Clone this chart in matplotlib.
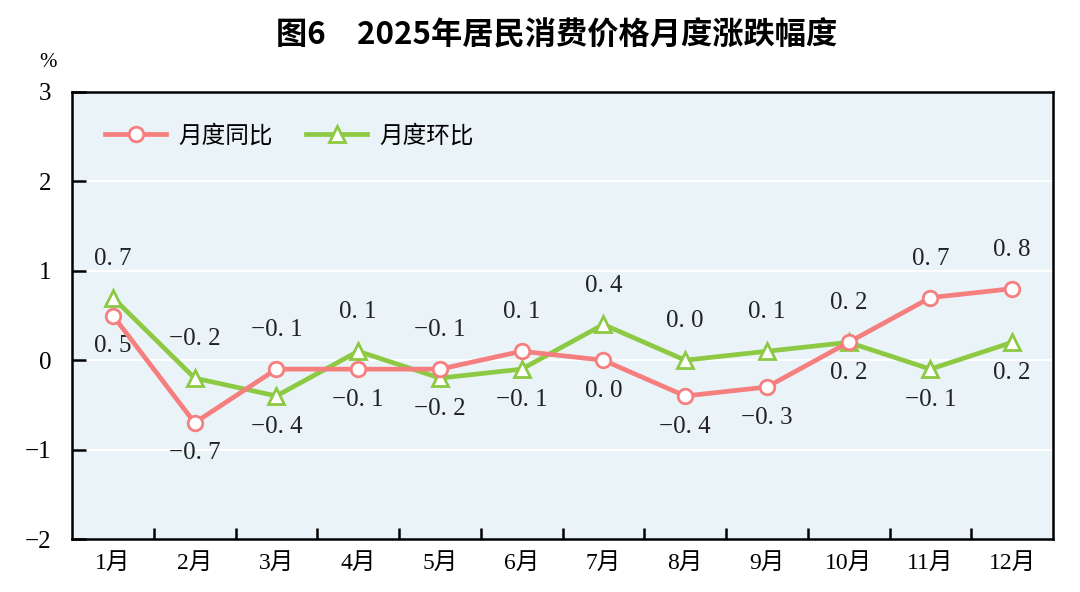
import matplotlib
matplotlib.use('Agg')
import matplotlib.pyplot as plt
import numpy as np

plt.rcParams['font.family'] = ['Liberation Serif', 'Noto Sans CJK SC']
plt.rcParams['axes.unicode_minus'] = True

# data
months = ['1月', '2月', '3月', '4月', '5月', '6月', '7月', '8月', '9月', '10月', '11月', '12月']
yoy = [0.5, -0.7, -0.1, -0.1, -0.1, 0.1, 0.0, -0.4, -0.3, 0.2, 0.7, 0.8]
mom = [0.7, -0.2, -0.4, 0.1, -0.2, -0.1, 0.4, 0.0, 0.1, 0.2, -0.1, 0.2]

# label placement: 1 = above, -1 = below
yoy_side = [-1, -1, 1, -1, 1, 1, -1, -1, -1, -1, 1, 1]
mom_side = [1, 1, -1, 1, -1, -1, 1, 1, 1, 1, -1, -1]

red = '#f57f7f'
green = '#8dc943'
bg = '#eaf4f8'

fig = plt.figure(figsize=(10.8, 5.92), dpi=100)
ax = fig.add_axes([0.0667, 0.0895, 0.9083, 0.7551])
ax.set_facecolor(bg)

x = np.arange(len(months))
ax.plot(x, yoy, color=red, lw=3.4, marker='o', ms=10.5, mfc='white', mec=red, mew=2,
        label='月度同比', zorder=4)
ax.plot(x, mom, color=green, lw=3.4, marker='^', ms=11, mfc='white', mec=green, mew=2,
        label='月度环比', zorder=3)


def fmt(v):
    s = '%.1f' % abs(v)
    s = s.replace('.', '. ')
    return ('−' + s) if v < 0 else s


for vals, side in ((yoy, yoy_side), (mom, mom_side)):
    for i, v in enumerate(vals):
        off = 28 if side[i] > 0 else -22
        ax.annotate(fmt(v), (i, v), xytext=(0, off), textcoords='offset points',
                    ha='center', va='center', fontsize=18, color='#222222')

ax.set_xlim(-0.5, 11.5)
ax.set_ylim(-2, 3)
ax.set_yticks([-2, -1, 0, 1, 2, 3])
ax.set_yticklabels(['−2', '−1', '0', '1', '2', '3'])
for yv in [-1, 0, 1, 2]:
    ax.axhline(yv, color='white', lw=1.5, zorder=1)

ax.set_xticks(x)
ax.set_xticklabels(months)
ax.set_xticks(np.arange(0.5, 11.5, 1), minor=True)
ax.tick_params(axis='x', which='major', length=0, pad=10, labelsize=17)
ax.tick_params(axis='x', which='minor', direction='in', length=8, width=1.8, bottom=True)
ax.tick_params(axis='y', direction='in', length=10, width=1.8, pad=15, labelsize=18)
ax.tick_params(axis='y', which='major', left=True)
for s in ax.spines.values():
    s.set_linewidth(1.8)
    s.set_color('black')

fig.text(0.044, 0.895, '%', fontsize=15, ha='center', va='center')

ax.legend(loc='upper left', bbox_to_anchor=(0.012, 0.975), ncol=2, frameon=False,
          handlelength=2.6, columnspacing=1.4, handletextpad=0.5,
          prop={'family': ['Noto Sans CJK SC'], 'size': 17})

fig.text(0.515, 0.94, '图6　2025年居民消费价格月度涨跌幅度', fontsize=22.5, fontweight='bold',
         ha='center', va='center', family=['Noto Sans CJK SC'])

fig.savefig('out.png', dpi=100, facecolor='white')
